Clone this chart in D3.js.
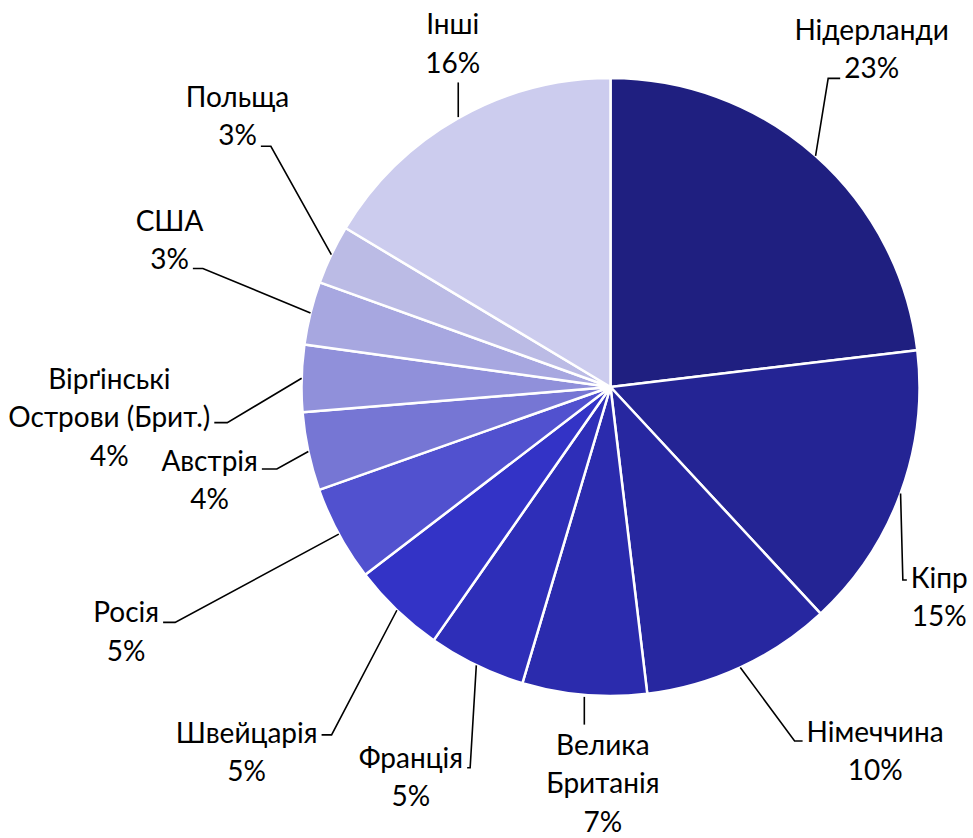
<!DOCTYPE html>
<html><head><meta charset="utf-8">
<script src="https://cdn.jsdelivr.net/npm/d3@7"></script>
<style>body{margin:0;background:#fff}</style>
</head><body><svg id="c" width="973" height="838"></svg>
<script>
// ---- data ----
const categories = ["Нідерланди","Кіпр","Німеччина","Велика Британія","Франція","Швейцарія","Росія","Австрія","Вірґінські Острови (Брит.)","США","Польща","Інші"];
const values = [23.1, 15.0, 10.0, 6.5, 5.1, 4.9, 5.0, 4.1, 3.5, 3.3, 3.1, 16.4];
const labelLines = [["Нідерланди"],["Кіпр"],["Німеччина"],["Велика","Британія"],["Франція"],["Швейцарія"],["Росія"],["Австрія"],["Вірґінські","Острови (Брит.)"],["США"],["Польща"],["Інші"]];

// ---- style / layout ----
const colors = ["#1f1f80","#242494","#2727a0","#2b2bad","#2e2eb8","#3333c6","#5151cf","#7676d4","#9090da","#a7a7e0","#bbbbe5","#ccccee"];
const labelLayout = [
  {ang:37.7, dist:1.382, side:"r", line:1, hook:12, dy:10},
  {ang:122.6, dist:1.263, side:"r", line:0, hook:4, dy:2},
  {ang:144.0, dist:1.457, side:"r", line:0, hook:8, dy:9},
  {ang:181.1, dist:1.283, side:"b"},
  {ang:207.1, dist:1.418, side:"l", line:0, hook:3, dy:10},
  {ang:224.9, dist:1.668, side:"l", line:0, hook:10, dy:2},
  {ang:243.2, dist:1.756, side:"l", line:0, hook:12, dy:10},
  {ang:256.9, dist:1.332, side:"l", line:0, hook:15, dy:8},
  {ang:266.5, dist:1.625, side:"l", line:1, hook:13, dy:5},
  {ang:288.4, dist:1.504, side:"l", line:1, hook:10, dy:9},
  {ang:306.0, dist:1.492, side:"l", line:1, hook:10, dy:11},
  {ang:335.3, dist:1.222, side:"t"}
];
const cx = 610.5, cy = 387, R = 309;
const fontSize = 28, lineH = 38.5;

const svg = d3.select("#c");
const g = svg.append("g").attr("transform", `translate(${cx},${cy})`);
const pie = d3.pie().sort(null).value(d => d);
const arcs = pie(values);
const arc = d3.arc().innerRadius(0).outerRadius(R);

g.selectAll("path.slice").data(arcs).enter().append("path")
  .attr("class","slice")
  .attr("d", arc)
  .attr("fill", (d,i) => colors[i])
  .attr("stroke", "#fff").attr("stroke-width", 2.5).attr("stroke-linejoin","round");

const labG = svg.append("g");
const lineG = svg.append("g");
arcs.forEach((a, i) => {
  const L = labelLayout[i];
  const th = L.ang * Math.PI / 180;
  const bx = cx + L.dist * R * Math.sin(th);
  const by = cy - L.dist * R * Math.cos(th);
  const lines = labelLines[i].concat([Math.round(values[i]) + "%"]);
  const n = lines.length;
  const centers = lines.map((_, k) => by + (k - (n - 1) / 2) * lineH);
  const nodes = lines.map((t, k) => labG.append("text")
    .attr("x", bx).attr("y", centers[k] + fontSize * 0.35)
    .attr("text-anchor", "middle")
    .attr("font-family", "Lato, 'Open Sans', sans-serif")
    .attr("font-size", fontSize).attr("fill", "#000")
    .text(t).node());
  const mid = (a.startAngle + a.endAngle) / 2;
  const sx = cx + R * Math.sin(mid), sy = cy - R * Math.cos(mid);
  let pts;
  if (L.side === "r" || L.side === "l") {
    const bb = nodes[L.line].getBBox();
    const ey = centers[L.line] + L.dy;
    const ex = L.side === "r" ? bb.x - 4 : bb.x + bb.width + 4;
    const kx = L.side === "r" ? ex - L.hook : ex + L.hook;
    pts = [[sx, sy], [kx, ey], [ex, ey]];
  } else if (L.side === "b") {
    pts = [[sx, sy + 2], [sx, centers[0] - lineH / 2 - 1]];
  } else {
    pts = [[sx, sy - 1], [sx, centers[n - 1] + lineH / 2]];
  }
  lineG.append("path").attr("d", d3.line()(pts))
    .attr("fill", "none").attr("stroke", "#000").attr("stroke-width", 1.6);
});
</script></body></html>
